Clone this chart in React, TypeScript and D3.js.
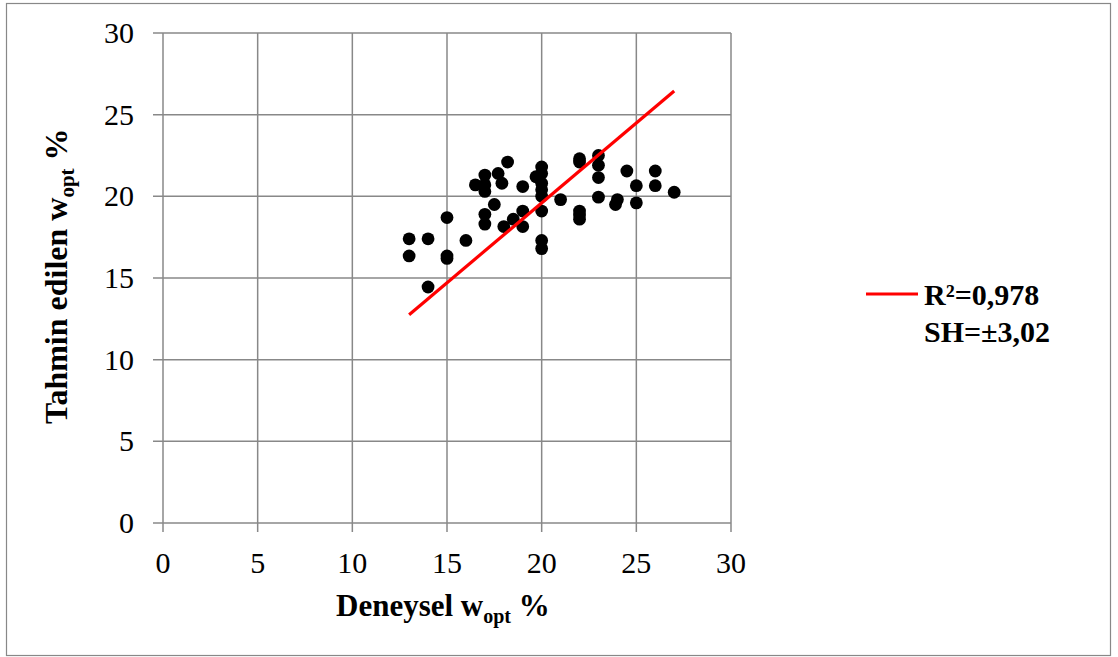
import * as d3 from "d3";
import { useEffect, useRef } from "react";

// Deneysel (measured) vs tahmin edilen (predicted) w_opt values
const deneysel = [
  13, 13, 14, 14, 15, 15, 15, 16, 16.5, 17, 17, 17, 17, 17, 17.5, 17.7, 17.9, 18.2, 18,
  18.5, 19, 19, 19, 19.7, 20, 20, 20, 20, 20, 20, 20, 20, 21, 22, 22, 22, 22, 22,
  23, 23, 23, 23, 23.9, 24, 24.5, 25, 25, 26, 26, 27,
];
const tahmin = [
  17.4, 16.35, 17.4, 14.45, 18.7, 16.35, 16.2, 17.3, 20.7, 21.3, 20.7, 20.3, 18.9, 18.3,
  19.5, 21.4, 20.8, 22.1, 18.15, 18.6, 19.1, 18.15, 20.6, 21.2, 21.8, 21.4, 20.8, 20.4,
  20.0, 19.1, 17.3, 16.8, 19.8, 22.3, 22.1, 19.1, 18.85, 18.6, 22.5, 21.9, 21.15, 19.95,
  19.5, 19.8, 21.55, 20.65, 19.6, 21.55, 20.65, 20.25,
];
const fitX = [13, 27];
const fitY = [12.75, 26.45];
const ticks = [0, 5, 10, 15, 20, 25, 30];
const legendLines = ["R²=0,978", "SH=±3,02"];

export default function App() {
  const ref = useRef<SVGSVGElement>(null);

  useEffect(() => {
    const svg = d3.select(ref.current);
    svg.selectAll("*").remove();

    const left = 163, right = 731, top = 33, bottom = 523;
    const x = d3.scaleLinear().domain([0, 30]).range([left, right]);
    const y = d3.scaleLinear().domain([0, 30]).range([bottom, top]);
    const grid = "#888888";
    const font = "'Liberation Serif', 'Times New Roman', serif";

    // outer frame
    svg.append("rect")
      .attr("x", 6.5).attr("y", 3.5)
      .attr("width", 1104).attr("height", 652)
      .attr("fill", "white").attr("stroke", grid).attr("stroke-width", 1.2);

    // gridlines + tick marks
    svg.append("g").selectAll("line").data(ticks).join("line")
      .attr("x1", left - 10).attr("x2", right)
      .attr("y1", d => y(d)).attr("y2", d => y(d))
      .attr("stroke", grid).attr("stroke-width", 1.5);
    svg.append("g").selectAll("line").data(ticks).join("line")
      .attr("x1", d => x(d)).attr("x2", d => x(d))
      .attr("y1", top).attr("y2", bottom + 9)
      .attr("stroke", grid).attr("stroke-width", 1.5);

    // tick labels
    svg.append("g").selectAll("text").data(ticks).join("text")
      .attr("x", 134).attr("y", d => y(d) + 10)
      .attr("text-anchor", "end")
      .attr("font-family", font).attr("font-size", 30)
      .text(d => d);
    svg.append("g").selectAll("text").data(ticks).join("text")
      .attr("x", d => x(d)).attr("y", 573)
      .attr("text-anchor", "middle")
      .attr("font-family", font).attr("font-size", 30)
      .text(d => d);

    // axis titles
    const xt = svg.append("text")
      .attr("x", 336).attr("y", 616)
      .attr("font-family", font).attr("font-size", 31).attr("font-weight", "bold");
    xt.append("tspan").text("Deneysel w");
    xt.append("tspan").attr("font-size", 20).attr("dy", 7).text("opt");
    xt.append("tspan").attr("dy", -7).text(" %");

    const yt = svg.append("text")
      .attr("transform", "translate(67, 424) rotate(-90)")
      .attr("font-family", font).attr("font-size", 32).attr("font-weight", "bold");
    yt.append("tspan").text("Tahmin edilen w");
    yt.append("tspan").attr("font-size", 21).attr("dy", 7).text("opt");
    yt.append("tspan").attr("dy", -7).text(" %");

    // points
    svg.append("g").selectAll("circle").data(deneysel).join("circle")
      .attr("cx", d => x(d)).attr("cy", (d, i) => y(tahmin[i]))
      .attr("r", 6.4).attr("fill", "black");

    // fit line
    const line = d3.line<number>().x(d => x(d)).y((d, i) => y(fitY[i]));
    svg.append("path").datum(fitX)
      .attr("d", line)
      .attr("fill", "none").attr("stroke", "#ff0000").attr("stroke-width", 3.2);

    // legend
    svg.append("line")
      .attr("x1", 866).attr("x2", 918).attr("y1", 294).attr("y2", 294)
      .attr("stroke", "#ff0000").attr("stroke-width", 3.2);
    svg.append("g").selectAll("text").data(legendLines).join("text")
      .attr("x", 924).attr("y", (d, i) => 305 + i * 37)
      .attr("font-family", font).attr("font-size", 30).attr("font-weight", "bold")
      .text(d => d);
  }, []);

  return (
    <svg
      ref={ref}
      width={1118}
      height={657}
      style={{ position: "absolute", left: 0, top: 0, background: "white" }}
    />
  );
}
